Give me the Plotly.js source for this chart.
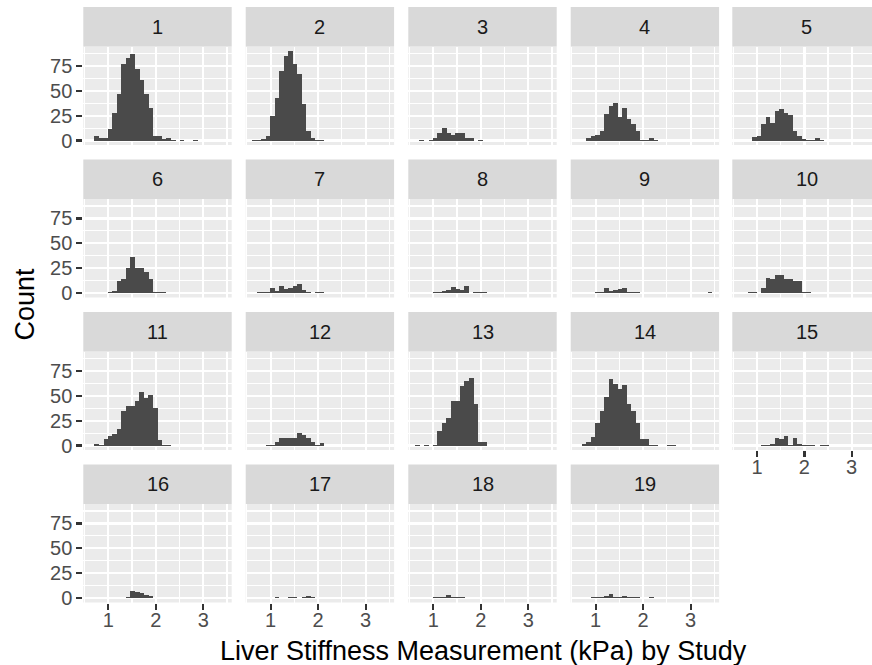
<!DOCTYPE html>
<html><head><meta charset="utf-8">
<script src="https://cdn.plot.ly/plotly-3.0.1.min.js"></script>
<style>html,body{margin:0;padding:0;overflow:hidden;background:#fff}#chart{width:880px;height:665px}</style>
</head><body><div id="chart"></div>
<script>
// Histogram bin midpoints (kPa)
const binMid = [0.663,0.758,0.853,0.948,1.042,1.137,1.232,1.326,1.421,1.516,1.610,1.705,1.800,1.894,1.989,2.084,2.178,2.273,2.368,2.462,2.557,2.652,2.746,2.841,2.936,3.030,3.125,3.220,3.314,3.409];
const studyLabels = ['1','2','3','4','5','6','7','8','9','10','11','12','13','14','15','16','17','18','19'];
const study1  = [0,5,3,3,12,28,47,77,83,87,72,61,47,33,5,5,2,3,1,0,1,0,0,1,0,0,0,0,0,0];
const study2  = [1,1,2,5,25,43,70,85,90,77,67,37,10,3,1,1,0,0,0,0,0,0,0,0,0,0,0,0,0,0];
const study3  = [0,1,0,1,3,8,13,8,6,8,8,3,3,0,1,0,0,0,0,0,0,0,0,0,0,0,0,0,0,0];
const study4  = [0,0,3,5,6,10,27,35,38,24,33,22,17,10,1,1,3,1,0,0,0,0,0,0,0,0,0,0,0,0];
const study5  = [0,0,0,4,5,17,24,18,30,32,28,26,10,5,2,1,1,3,1,0,0,0,0,0,0,0,0,0,0,0];
const study6  = [0,0,0,0,1,2,12,14,25,36,25,25,21,14,1,1,1,0,0,0,0,0,0,0,0,0,0,0,0,0];
const study7  = [0,1,1,1,5,2,7,4,5,7,9,3,1,0,1,1,0,0,0,0,0,0,0,0,0,0,0,0,0,0];
const study8  = [0,0,0,0,1,1,2,3,6,4,3,7,0,1,1,1,0,0,0,0,0,0,0,0,0,0,0,0,0,0];
const study9  = [0,0,0,0,1,1,5,2,3,4,5,1,1,1,0,0,0,0,0,0,0,0,0,0,0,0,0,0,0,1];
const study10 = [0,0,1,1,0,5,15,14,18,18,14,14,12,12,1,1,0,0,0,0,0,0,0,0,0,0,0,0,0,0];
const study11 = [0,2,1,7,10,12,17,35,40,40,45,54,48,51,38,6,1,1,0,0,0,0,0,0,0,0,0,0,0,0];
const study12 = [0,0,0,1,1,4,8,8,8,8,13,11,8,4,1,3,0,0,0,0,0,0,0,0,0,0,0,0,0,0];
const study13 = [1,0,1,0,1,15,23,28,45,45,60,65,68,42,4,4,0,0,0,0,0,0,0,0,0,0,0,0,0,0];
const study14 = [0,2,4,9,23,35,49,67,62,57,61,42,35,23,7,7,1,1,0,0,1,1,0,0,0,0,0,0,0,0];
const study15 = [0,0,0,0,0,1,1,2,8,7,10,1,8,2,1,1,1,0,1,1,0,0,0,0,0,0,0,0,0,0];
const study16 = [0,0,0,0,0,0,0,0,1,7,6,5,3,2,0,0,0,0,0,0,0,0,0,0,0,0,0,0,0,0];
const study17 = [0,0,0,0,0,1,0,0,1,1,0,1,2,1,0,0,0,0,0,0,0,0,0,0,0,0,0,0,0,0];
const study18 = [0,0,0,0,1,1,1,3,1,1,1,0,0,0,0,0,0,0,0,0,0,0,0,0,0,0,0,0,0,0];
const study19 = [0,0,0,1,1,1,2,4,1,1,2,1,1,1,0,0,1,0,0,0,0,0,0,0,0,0,0,0,0,0];
const xTicks = [1,2,3];
const yTicks = [0,25,50,75];
const xTitle = 'Liver Stiffness Measurement (kPa) by Study';
const yTitle = 'Count';

const studies = [study1,study2,study3,study4,study5,study6,study7,study8,study9,study10,
                 study11,study12,study13,study14,study15,study16,study17,study18,study19];

const W = 880, H = 665;
const colLeft = [83.3, 245.7, 408.3, 570.7, 732.3], panelW = 148.4;
const rowTop = [7, 159.5, 312, 464.5], stripH = 39.5, plotH = 98.5;
const px = x => x / W, py = y => 1 - y / H;
const FONT = 'Liberation Sans, Arial, sans-serif';
const tickFont = {family: FONT, size: 20, color: '#4D4D4D'};

const traces = [];
const layout = {
  width: W, height: H, margin: {l:0, r:0, t:0, b:0},
  paper_bgcolor: '#FFFFFF', plot_bgcolor: '#EBEBEB',
  bargap: 0, showlegend: false, shapes: [], annotations: [],
  font: {family: FONT}
};

studies.forEach((counts, i) => {
  const r = Math.floor(i / 5), c = i % 5, n = i + 1;
  const sfx = n === 1 ? '' : String(n);
  const bottomRow = i >= 14;
  const leftCol = c === 0;
  traces.push({
    type: 'bar', x: binMid, y: counts, width: 0.0965,
    xaxis: 'x' + sfx, yaxis: 'y' + sfx,
    marker: {color: '#4A4A4A', line: {width: 0}},
    showlegend: false, hoverinfo: 'x+y'
  });
  const top = rowTop[r] + stripH;
  layout['xaxis' + sfx] = {
    domain: [px(colLeft[c]), px(colLeft[c] + panelW)], anchor: 'y' + sfx,
    range: [0.474, 3.6], tickmode: 'array', tickvals: xTicks, ticktext: xTicks.map(String),
    showticklabels: bottomRow, ticks: bottomRow ? 'outside' : '', ticklen: 6, tickwidth: 2.2, tickcolor: '#333333',
    ticklabelstandoff: -7,
    tickfont: tickFont, showgrid: true, gridcolor: '#FFFFFF', gridwidth: 2.2,
    minor: {tick0: 0.5, dtick: 1, showgrid: true, gridcolor: '#FFFFFF', gridwidth: 1.1, ticks: ''},
    zeroline: false, showline: false, fixedrange: true
  };
  layout['yaxis' + sfx] = {
    domain: [py(top + plotH), py(top)], anchor: 'x' + sfx,
    range: [-4.5, 94.5], tickmode: 'array', tickvals: yTicks, ticktext: yTicks.map(String),
    showticklabels: leftCol, ticks: leftCol ? 'outside' : '', ticklen: 6, tickwidth: 2.2, tickcolor: '#333333',
    tickfont: tickFont, showgrid: true, gridcolor: '#FFFFFF', gridwidth: 2.2,
    minor: {tick0: 12.5, dtick: 25, showgrid: true, gridcolor: '#FFFFFF', gridwidth: 1.1, ticks: ''},
    zeroline: false, showline: false, fixedrange: true
  };
  layout.shapes.push({
    type: 'rect', xref: 'paper', yref: 'paper', layer: 'below',
    x0: px(colLeft[c]), x1: px(colLeft[c] + panelW), y0: py(rowTop[r] + stripH), y1: py(rowTop[r]),
    fillcolor: '#D9D9D9', line: {width: 0}
  });
  layout.annotations.push({
    xref: 'paper', yref: 'paper', x: px(colLeft[c] + panelW / 2), y: py(rowTop[r] + stripH / 2),
    xanchor: 'center', yanchor: 'middle', showarrow: false, text: studyLabels[i],
    font: {family: FONT, size: 20, color: '#1A1A1A'}
  });
});

layout.annotations.push({
  xref: 'paper', yref: 'paper', x: px(483), y: py(651), xanchor: 'center', yanchor: 'middle',
  showarrow: false, text: xTitle, font: {family: FONT, size: 27, color: '#000000'}
});
layout.annotations.push({
  xref: 'paper', yref: 'paper', x: px(24), y: py(304.5), xanchor: 'center', yanchor: 'middle',
  showarrow: false, text: yTitle, textangle: -90, font: {family: FONT, size: 27, color: '#000000'}
});

Plotly.newPlot('chart', traces, layout, {staticPlot: true, displayModeBar: false});
</script>
</body></html>
